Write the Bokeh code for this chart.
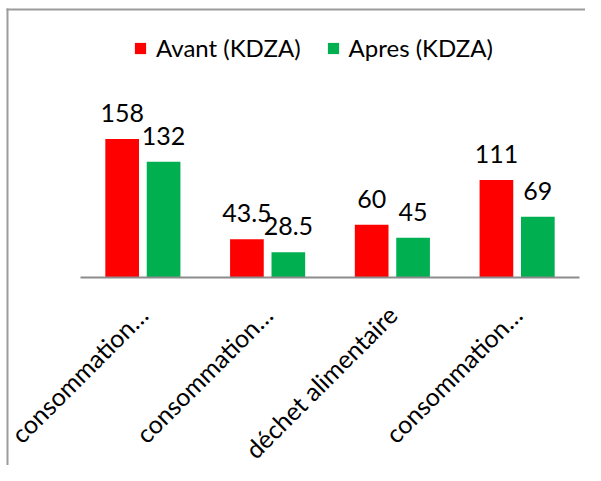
import numpy as np
from bokeh.plotting import figure
from bokeh.models import ColumnDataSource, Range1d, FixedTicker, Legend, LegendItem, BoxAnnotation
from bokeh.transform import dodge
from bokeh.core.properties import value
from bokeh.embed import file_html
from bokeh.resources import INLINE
import math

# ---- data ----
categories = ["consommation\u2026", "consommation\u2026", "d\u00e9chet alimentaire", "consommation\u2026"]
avant = [158, 43.5, 60, 111]
apres = [132, 28.5, 45, 69]
series_names = ["Avant (KDZA)", "Apres (KDZA)"]
colors = ["#FF0000", "#00B050"]

idx = list(range(len(categories)))
src = ColumnDataSource(dict(
    x=idx, avant=avant, apres=apres,
    avant_lbl=[f"{v:g}" for v in avant],
    apres_lbl=[f"{v:g}" for v in apres],
))

FONT = "Lato"
W, H = 585, 465
# layout (pixels): category band from x=80 to x=579, baseline at y=276.7, 0.875 px per unit
cat_px = (579 - 80) / len(categories)
x0 = -0.5 - 80 / cat_px
x1 = len(categories) - 0.5 + (W - 579) / cat_px
ppu = 0.875
y1 = 276.7 / ppu
y0 = -(H - 276.7) / ppu

p = figure(width=W, height=H, output_backend="svg", toolbar_location=None,
           x_range=Range1d(x0, x1), y_range=Range1d(y0, y1),
           min_border_left=0, min_border_right=0, min_border_top=0, min_border_bottom=0)
p.outline_line_color = None
p.background_fill_color = "white"
p.border_fill_color = "white"
p.xgrid.visible = False
p.ygrid.visible = False
p.yaxis.visible = False

off = 0.166
bw = 0.27
r1 = p.vbar(x=dodge("x", -off, range=p.x_range), top="avant", width=bw, bottom=0,
            source=src, fill_color=colors[0], line_color=None)
r2 = p.vbar(x=dodge("x", off, range=p.x_range), top="apres", width=bw, bottom=0,
            source=src, fill_color=colors[1], line_color=None)

for col, o in (("avant_lbl", -off), ("apres_lbl", off)):
    p.text(x=dodge("x", o, range=p.x_range), y=col.replace("_lbl", ""), text=col, source=src,
           text_font=value(FONT), text_font_size="25px", text_color="black",
           text_align="center", text_baseline="alphabetic", y_offset=-26)

ax = p.xaxis[0]
ax.fixed_location = 0
ax.bounds = (-0.5, len(categories) - 0.5)
ax.ticker = FixedTicker(ticks=idx)
ax.major_label_overrides = {i: c for i, c in zip(idx, categories)}
ax.major_label_orientation = math.pi / 4
ax.major_label_text_font = FONT
ax.major_label_text_font_size = "25px"
ax.major_label_text_color = "black"
ax.major_tick_line_color = None
ax.minor_tick_line_color = None
ax.axis_line_color = "#8c8c8c"
ax.axis_line_width = 2
ax.major_label_standoff = 27

legend = Legend(items=[LegendItem(label=series_names[0], renderers=[r1]),
                       LegendItem(label=series_names[1], renderers=[r2])],
                location=(133, 403), orientation="horizontal",
                glyph_width=14, glyph_height=14, label_height=14,
                label_standoff=9, spacing=25, padding=0, margin=0,
                border_line_color=None, background_fill_alpha=0,
                label_text_font=FONT, label_text_font_size="24px", label_text_color="black")
p.add_layout(legend, "center")

# chart-area border: only its left and top edges are in view
BORDER = "#9c9c9c"
p.add_layout(BoxAnnotation(left=6, right=8, top=8, bottom=H,
                           left_units="canvas", right_units="canvas",
                           top_units="canvas", bottom_units="canvas",
                           fill_color=BORDER, fill_alpha=1, line_color=None))
p.add_layout(BoxAnnotation(left=6, right=W, top=8, bottom=10,
                           left_units="canvas", right_units="canvas",
                           top_units="canvas", bottom_units="canvas",
                           fill_color=BORDER, fill_alpha=1, line_color=None))

open("out.html", "w").write(file_html(p, INLINE))
